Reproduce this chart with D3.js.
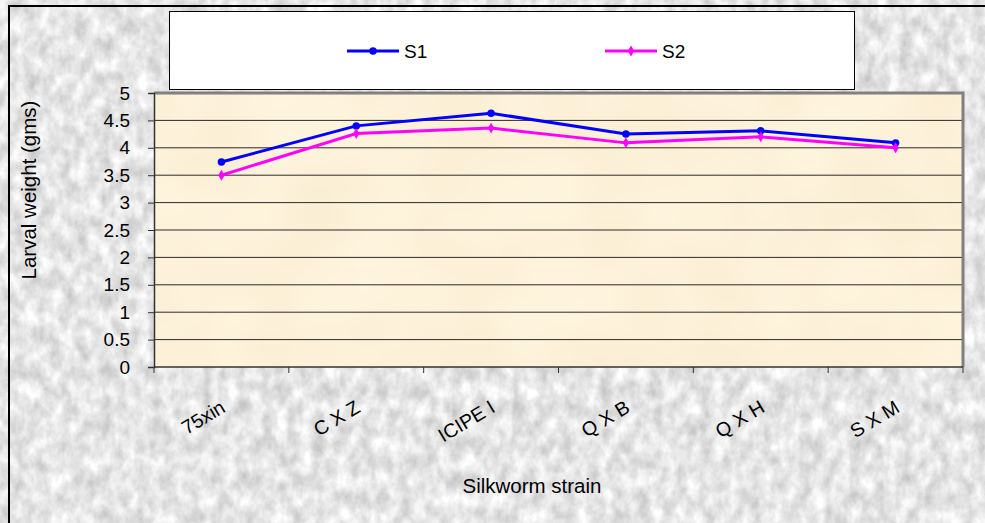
<!DOCTYPE html>
<html>
<head>
<meta charset="utf-8">
<script src="https://cdn.jsdelivr.net/npm/d3@7"></script>
<style>
  html, body { margin: 0; padding: 0; background: #ffffff; }
  svg { display: block; font-family: "Liberation Sans", Arial, sans-serif; }
</style>
</head>
<body>
<svg id="chart" width="985" height="523"></svg>
<script>
// Silkworm strains and mean larval weight (g) for two seasons
const strains = ["75xin", "C X Z", "ICIPE I", "Q X B", "Q X H", "S X M"];
const s1Values = [3.74, 4.40, 4.63, 4.25, 4.31, 4.09];
const s2Values = [3.50, 4.26, 4.36, 4.09, 4.20, 4.00];
const yTicks = [0, 0.5, 1, 1.5, 2, 2.5, 3, 3.5, 4, 4.5, 5];
const seriesNames = ["S1", "S2"];
const seriesColors = ["#0000ff", "#ff00ff"];

const series = seriesNames.map((name, i) => ({
  name,
  color: seriesColors[i],
  values: [s1Values, s2Values][i],
  symbol: i === 0 ? d3.symbolCircle : d3.symbolDiamond,
  symbolSize: i === 0 ? 44 : 34
}));

const W = 985, H = 523;
const plot = { left: 154, top: 93, right: 963, bottom: 367 };

const svg = d3.select("#chart");
const defs = svg.append("defs");

// light granite-like grey texture for the chart background
const f = defs.append("filter").attr("id", "granite")
  .attr("x", 0).attr("y", 0).attr("width", "100%").attr("height", "100%")
  .attr("color-interpolation-filters", "sRGB");
f.append("feTurbulence").attr("type", "fractalNoise")
  .attr("baseFrequency", "0.08 0.055").attr("numOctaves", 4).attr("seed", 11)
  .attr("result", "noise");
f.append("feColorMatrix").attr("in", "noise").attr("type", "matrix")
  .attr("values", "0.32 0 0 0 0.74  0.32 0 0 0 0.74  0.32 0 0 0 0.74  0 0 0 0 1");
svg.append("rect").attr("x", 0).attr("y", 0).attr("width", W).attr("height", H)
  .attr("filter", "url(#granite)");

// very soft mottling inside the plot area
const f2 = defs.append("filter").attr("id", "mottle")
  .attr("x", 0).attr("y", 0).attr("width", "100%").attr("height", "100%")
  .attr("color-interpolation-filters", "sRGB");
f2.append("feTurbulence").attr("type", "fractalNoise")
  .attr("baseFrequency", "0.012").attr("numOctaves", 2).attr("seed", 3);
f2.append("feColorMatrix").attr("type", "matrix")
  .attr("values", "0.03 0 0 0 0.975  0.04 0 0 0 0.925  0.06 0 0 0 0.82  0 0 0 0 1");

// outer frame (top and left edges)
svg.append("line").attr("x1", 8).attr("x2", W).attr("y1", 6).attr("y2", 6)
  .attr("stroke", "#000").attr("stroke-width", 2);
svg.append("line").attr("x1", 9).attr("x2", 9).attr("y1", 5).attr("y2", H)
  .attr("stroke", "#000").attr("stroke-width", 2);

// scales
const x = d3.scaleBand().domain(strains).range([plot.left, plot.right]);
const y = d3.scaleLinear().domain([0, 5]).range([plot.bottom, plot.top]);
const cx = s => x(s) + x.bandwidth() / 2;

// plot area
svg.append("rect")
  .attr("x", plot.left).attr("y", plot.top)
  .attr("width", plot.right - plot.left).attr("height", plot.bottom - plot.top)
  .attr("filter", "url(#mottle)");

// horizontal gridlines
svg.append("g").selectAll("line")
  .data(yTicks.filter(d => d > 0 && d < 5))
  .join("line")
  .attr("x1", plot.left).attr("x2", plot.right)
  .attr("y1", d => y(d)).attr("y2", d => y(d))
  .attr("stroke", "#2a2a2a").attr("stroke-width", 1);

// plot area border: grey top/right
svg.append("path")
  .attr("d", `M${plot.left},${plot.top}H${plot.right}V${plot.bottom}`)
  .attr("fill", "none").attr("stroke", "#808080").attr("stroke-width", 3);

// y axis
const yAxis = svg.append("g")
  .attr("transform", `translate(${plot.left},0)`)
  .call(d3.axisLeft(y).tickValues(yTicks).tickSize(6).tickPadding(18)
    .tickFormat(d3.format("")));
yAxis.select(".domain").attr("stroke", "#333").attr("stroke-width", 1.5);
yAxis.selectAll(".tick line").attr("stroke", "#333");
yAxis.selectAll("text").attr("font-size", 19).attr("fill", "#000")
  .attr("font-family", "Liberation Sans, Arial, sans-serif");

// x axis with ticks at category boundaries
const xAxis = svg.append("g")
  .attr("transform", `translate(0,${plot.bottom})`);
xAxis.append("line")
  .attr("x1", plot.left).attr("x2", plot.right)
  .attr("stroke", "#333").attr("stroke-width", 1.5);
const boundaries = strains.map(s => x(s)).concat([plot.right]);
xAxis.selectAll("line.tk").data(boundaries).join("line").attr("class", "tk")
  .attr("x1", d => d).attr("x2", d => d).attr("y1", 0).attr("y2", 6)
  .attr("stroke", "#333").attr("stroke-width", 1);
xAxis.selectAll("text").data(strains).join("text")
  .attr("transform", d => `translate(${cx(d) - 2},${32}) rotate(-31)`)
  .attr("text-anchor", "end")
  .attr("dy", "0.72em")
  .attr("font-size", 19.5)
  .attr("fill", "#000")
  .text(d => d);

// axis titles
svg.append("text")
  .attr("transform", `translate(28,190) rotate(-90)`)
  .attr("text-anchor", "middle").attr("dominant-baseline", "central")
  .attr("font-size", 20.5).attr("fill", "#000")
  .text("Larval weight (gms)");
svg.append("text")
  .attr("x", 532).attr("y", 493)
  .attr("text-anchor", "middle").attr("font-size", 20.5).attr("fill", "#000")
  .text("Silkworm strain");

// lines and markers
const line = d3.line()
  .x((d, i) => cx(strains[i]))
  .y(d => y(d));

series.forEach(s => {
  const g = svg.append("g");
  g.append("path").datum(s.values)
    .attr("d", line).attr("fill", "none")
    .attr("stroke", s.color).attr("stroke-width", 3);
  g.selectAll("path.pt").data(s.values).join("path").attr("class", "pt")
    .attr("transform", (d, i) => `translate(${cx(strains[i])},${y(d)})`)
    .attr("d", d3.symbol(s.symbol, s.symbolSize))
    .attr("fill", s.color);
});

// legend
const legend = svg.append("g");
legend.append("rect")
  .attr("x", 169.5).attr("y", 11.5).attr("width", 685).attr("height", 78)
  .attr("fill", "#fff").attr("stroke", "#000").attr("stroke-width", 1);
const legendX = [347, 605];
series.forEach((s, i) => {
  const lg = legend.append("g").attr("transform", `translate(${legendX[i]},51)`);
  lg.append("line").attr("x1", 0).attr("x2", 52).attr("y1", 0).attr("y2", 0)
    .attr("stroke", s.color).attr("stroke-width", 3);
  lg.append("path").attr("transform", "translate(26,0)")
    .attr("d", d3.symbol(s.symbol, s.symbolSize)).attr("fill", s.color);
  lg.append("text").attr("x", 57).attr("y", 7)
    .attr("font-size", 19).attr("fill", "#000").text(s.name);
});
</script>
</body>
</html>
